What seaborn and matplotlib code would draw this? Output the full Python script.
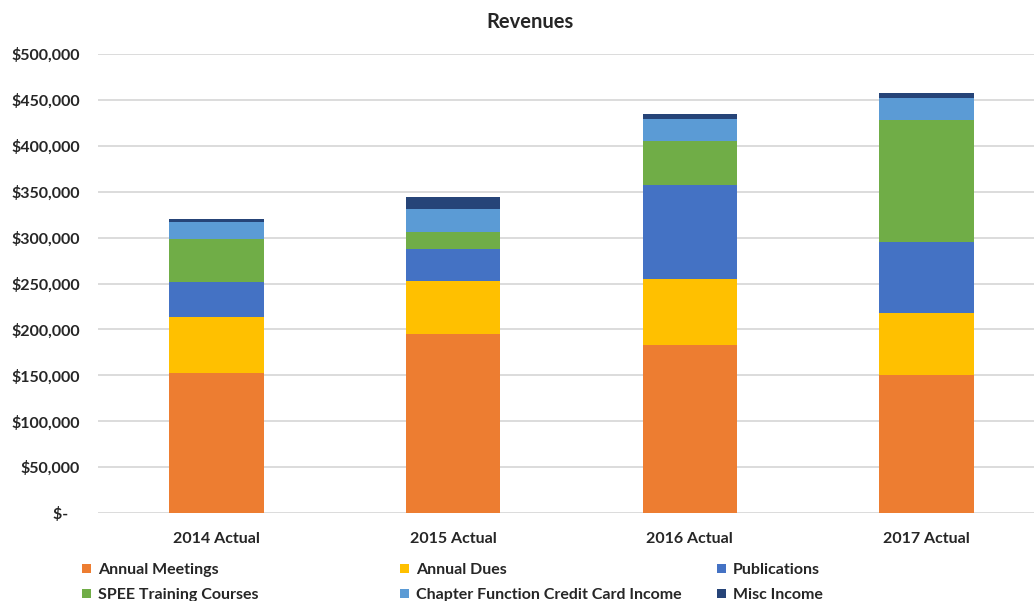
import matplotlib
matplotlib.use("Agg")
import matplotlib.pyplot as plt
import seaborn as sns
import numpy as np

# Значения (в долларах)
years = ["2014 Actual", "2015 Actual", "2016 Actual", "2017 Actual"]
annual_meetings = [152500, 195000, 183000, 150300]
annual_dues = [61000, 57400, 72200, 67600]
publications = [38000, 35200, 102100, 77000]
spee_training = [46500, 18800, 47600, 133500]
chapter_cc_income = [19200, 24800, 24000, 23700]
misc_income = [2700, 13000, 5700, 5100]

series_names = ["Annual Meetings", "Annual Dues", "Publications",
                "SPEE Training Courses", "Chapter Function Credit Card Income",
                "Misc Income"]
series_values = [annual_meetings, annual_dues, publications,
                 spee_training, chapter_cc_income, misc_income]
colors = ["#ED7D31", "#FFC000", "#4472C4", "#70AD47", "#5B9BD5", "#264478"]
y_ticks = list(range(0, 500001, 50000))

sns.set_style("white")
plt.rcParams["font.family"] = ["Lato", "DejaVu Sans"]
plt.rcParams["font.weight"] = "bold"

fig = plt.figure(figsize=(10.34, 6.01), dpi=100)
ax = fig.add_axes([98 / 1034, 1 - 513 / 601, 947 / 1034, (513 - 54) / 601])

bottom = np.zeros(len(years))
for name, vals, col in zip(series_names, series_values, colors):
    sns.barplot(x=years, y=vals, bottom=bottom, color=col, width=0.4,
                saturation=1, label=name, ax=ax, zorder=3, linewidth=0)
    bottom = bottom + np.array(vals)

ax.set_xlim(-0.5, 3.5)
ax.set_ylim(0, 500000)
ax.set_yticks(y_ticks)
ax.set_yticklabels([f"${v:,.0f}" if v else "$-   " for v in y_ticks])
ax.yaxis.grid(True, color="#D9D9D9", linewidth=1.3, zorder=0)
ax.set_axisbelow(True)
for s in ax.spines.values():
    s.set_visible(False)
ax.tick_params(axis="both", length=0, labelsize=11.5, colors="#262626")
ax.tick_params(axis="y", pad=13)
ax.tick_params(axis="x", pad=14)
for lbl in ax.get_xticklabels() + ax.get_yticklabels():
    lbl.set_fontweight("bold")
ax.set_xlabel("")
ax.set_ylabel("")

fig.text(530 / 1034, 1 - 22 / 601, "Revenues", ha="center", va="center",
         fontsize=14.5, fontweight="bold", color="#262626")

# Легенда: три колонки по две записи
handles, labels = ax.get_legend_handles_labels()
if ax.get_legend() is not None:
    ax.get_legend().remove()
lookup = dict(zip(labels, handles))
col_x = [74, 392, 709]
for i, x in enumerate(col_x):
    names = [series_names[i], series_names[i + 3]]
    leg = fig.legend([lookup[n] for n in names], names, loc="upper left",
                     bbox_to_anchor=(x / 1034, 1 - 555 / 601), frameon=False,
                     handlelength=0.55, handleheight=0.55,
                     handletextpad=0.45, labelspacing=0.7, borderpad=0,
                     prop={"weight": "bold", "size": 11.5})
    for t in leg.get_texts():
        t.set_color("#262626")

plt.savefig("out.png", dpi=100)
